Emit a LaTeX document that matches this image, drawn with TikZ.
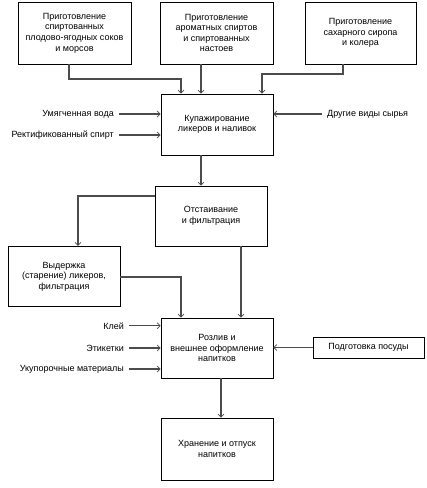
\documentclass[tikz,border=0pt]{standalone}
\usepackage{fontspec}
\setmainfont{Liberation Sans}
\usetikzlibrary{arrows.meta}
\begin{document}
\begin{tikzpicture}[x=1pt,y=-1pt,
  box/.style={draw=black, line width=0.9pt, fill=white, align=center, inner sep=2pt,
    font=\fontsize{9}{10.6}\selectfont},
  lbl/.style={inner ysep=2pt, inner xsep=5pt, font=\fontsize{9}{10.6}\selectfont},
  conn/.style={draw=black!70, line width=1.1pt,
    -{Straight Barb[length=3pt,width=6pt,line width=0.7pt]}}]
\useasboundingbox (0,0) rectangle (427,488);

\node[box, minimum width=113pt, minimum height=62pt] (b1) at (74.5,33)
  {Приготовление\\спиртованных\\плодово-ягодных соков\\и морсов};
\node[box, minimum width=113pt, minimum height=62pt] (b2) at (216.5,33)
  {Приготовление\\ароматных спиртов\\и спиртованных\\настоев};
\node[box, minimum width=111pt, minimum height=62pt] (b3) at (360.5,33)
  {Приготовление\\сахарного сиропа\\и колера};
\node[box, minimum width=112pt, minimum height=61pt] (kup) at (217,124.5)
  {Купажирование\\ликеров и наливок};
\node[box, minimum width=112pt, minimum height=60pt] (otst) at (211,216)
  {Отстаивание\\и фильтрация};
\node[box, minimum width=112pt, minimum height=60.5pt] (vyd) at (64,276.5)
  {Выдержка\\(старение) ликеров,\\фильтрация};
\node[box, minimum width=112pt, minimum height=60pt] (rozl) at (217,348)
  {Розлив и\\внешнее оформление\\напитков};
\node[box, minimum width=111pt, minimum height=21pt] (podg) at (368.5,347.5)
  {Подготовка посуды};
\node[box, minimum width=112pt, minimum height=62pt] (khr) at (217,449)
  {Хранение и отпуск\\напитков};

\node[lbl, anchor=east] (l1) at (119,114) {Умягченная вода};
\node[lbl, anchor=east] (l2) at (119,135) {Ректификованный спирт};
\node[lbl, anchor=west] (l3) at (322,114) {Другие виды сырья};
\node[lbl, anchor=east] (l4) at (129,325.7) {Клей};
\node[lbl, anchor=east] (l5) at (129,348) {Этикетки};
\node[lbl, anchor=east] (l6) at (129,369) {Укупорочные материалы};

\draw[conn] (b1.south -| 69,0) |- (181,79) -- (kup.north -| 181,0);
\draw[conn] (b2.south -| 201,0) -- (kup.north -| 201,0);
\draw[conn] (b3.south -| 343,0) |- (262,74) -- (kup.north -| 262,0);
\draw[conn] (l1.east) -- (kup.west |- l1.east);
\draw[conn] (l2.east) -- (kup.west |- l2.east);
\draw[conn] (l3.west) -- (kup.east |- l3.west);
\draw[conn] (kup.south -| 201,0) -- (otst.north -| 201,0);
\draw[conn] (otst.west |- 0,196) -| (vyd.north -| 78,0);
\draw[conn] (vyd.east |- 0,277) -| (rozl.north -| 181,0);
\draw[conn] (otst.south -| 241,0) -- (rozl.north -| 241,0);
\draw[conn] (l4.east) -- (rozl.west |- l4.east);
\draw[conn] (l5.east) -- (rozl.west |- l5.east);
\draw[conn] (l6.east) -- (rozl.west |- l6.east);
\draw[conn] (podg.west) -- (rozl.east |- podg.west);
\draw[conn] (rozl.south -| 221,0) -- (khr.north -| 221,0);
\end{tikzpicture}
\end{document}
